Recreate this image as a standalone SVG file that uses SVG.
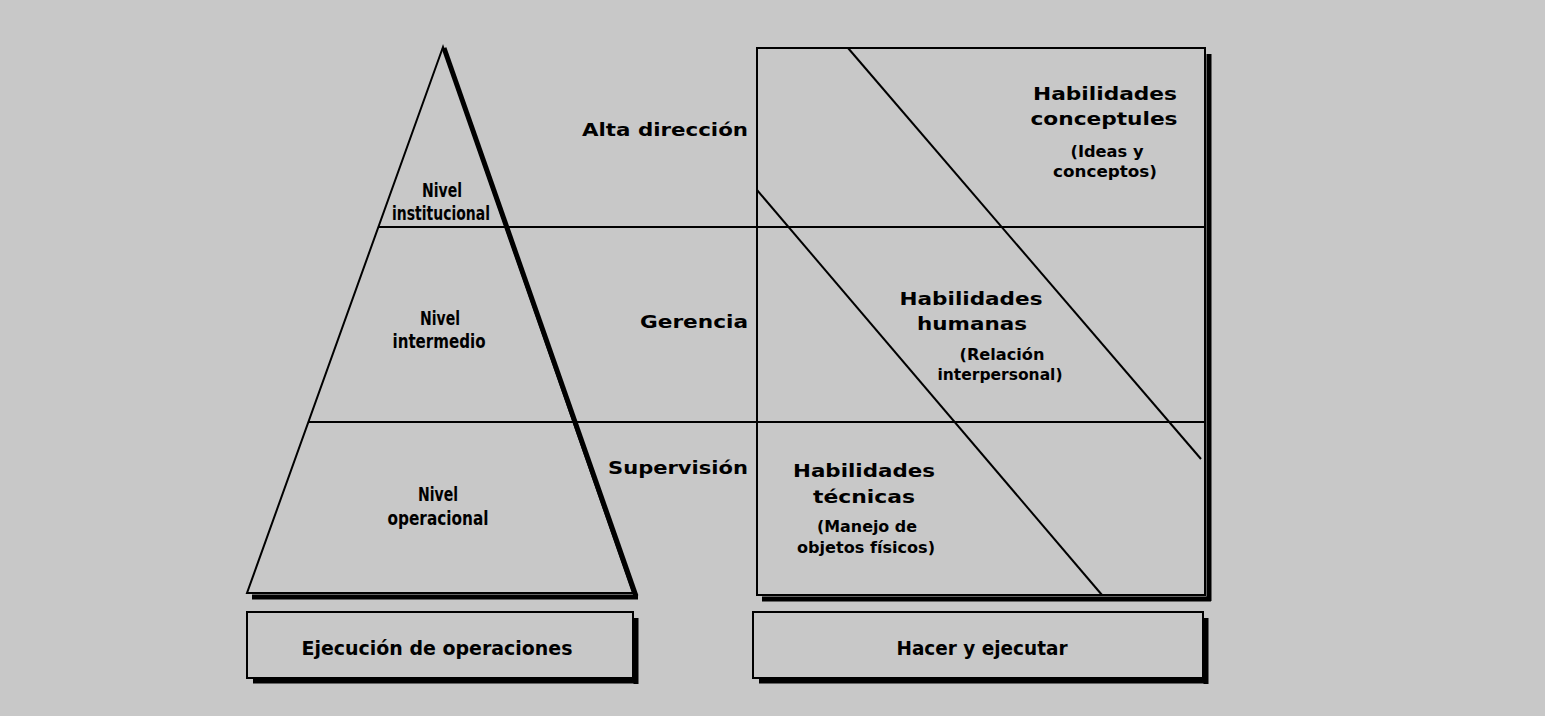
<svg xmlns="http://www.w3.org/2000/svg" width="1545" height="716" viewBox="0 0 1545 716">
<style>
.thin{stroke:#000;stroke-width:2;fill:none}
.shadow{stroke:#000;stroke-width:5;fill:none}
.lvl{font-family:"DejaVu Sans","Liberation Sans",sans-serif;font-weight:bold;font-size:18px;fill:#000}
.niv{font-family:"DejaVu Sans Condensed","Liberation Sans",sans-serif;font-weight:bold;font-size:20px;fill:#000;text-anchor:middle}
.hab{font-family:"DejaVu Sans","Liberation Sans",sans-serif;font-weight:bold;font-size:18px;fill:#000;text-anchor:middle}
.sub{font-family:"DejaVu Sans","Liberation Sans",sans-serif;font-weight:bold;font-size:15px;fill:#000;text-anchor:middle}
.box{font-family:"DejaVu Sans","Liberation Sans",sans-serif;font-weight:bold;font-size:19px;fill:#000;text-anchor:middle}
</style>
<rect x="0" y="0" width="1545" height="716" fill="#c8c8c8"/>

<g id="connectors">
  <line class="thin" x1="378" y1="227" x2="1205" y2="227"/>
  <line class="thin" x1="309" y1="422" x2="1205" y2="422"/>
  <line class="thin" x1="848" y1="48" x2="1201" y2="459"/>
  <line class="thin" x1="757" y1="190" x2="1102" y2="595"/>
</g>

<g id="pyramid">
  <polygon class="thin" points="443,47 247,593 633,593"/>
  <line class="shadow" x1="444" y1="48" x2="636" y2="596"/>
  <line class="shadow" x1="252" y1="597" x2="638" y2="597"/>
  <text class="niv" x="442" y="197" textLength="40" lengthAdjust="spacingAndGlyphs">Nivel</text>
  <text class="niv" x="441" y="220" textLength="98" lengthAdjust="spacingAndGlyphs">institucional</text>
  <text class="niv" x="440" y="325" textLength="40" lengthAdjust="spacingAndGlyphs">Nivel</text>
  <text class="niv" x="439" y="348" textLength="93" lengthAdjust="spacingAndGlyphs">intermedio</text>
  <text class="niv" x="438" y="501" textLength="40" lengthAdjust="spacingAndGlyphs">Nivel</text>
  <text class="niv" x="438" y="525" textLength="101" lengthAdjust="spacingAndGlyphs">operacional</text>
</g>

<g id="level-labels">
  <text class="lvl" x="582" y="136" textLength="166" lengthAdjust="spacingAndGlyphs">Alta dirección</text>
  <text class="lvl" x="640" y="328" textLength="108" lengthAdjust="spacingAndGlyphs">Gerencia</text>
  <text class="lvl" x="608" y="474" textLength="140" lengthAdjust="spacingAndGlyphs">Supervisión</text>
</g>

<g id="skills">
  <rect class="thin" x="757" y="48" width="448" height="547"/>
  <line class="shadow" x1="1209" y1="54" x2="1209" y2="601"/>
  <line class="shadow" x1="762" y1="599" x2="1211" y2="599"/>
  <text class="hab" x="1105" y="100" textLength="144" lengthAdjust="spacingAndGlyphs">Habilidades</text>
  <text class="hab" x="1104" y="125" textLength="147" lengthAdjust="spacingAndGlyphs">conceptules</text>
  <text class="sub" x="1107" y="157" textLength="73" lengthAdjust="spacingAndGlyphs">(Ideas y</text>
  <text class="sub" x="1105" y="177" textLength="104" lengthAdjust="spacingAndGlyphs">conceptos)</text>
  <text class="hab" x="971" y="305" textLength="143" lengthAdjust="spacingAndGlyphs">Habilidades</text>
  <text class="hab" x="972" y="330" textLength="110" lengthAdjust="spacingAndGlyphs">humanas</text>
  <text class="sub" x="1002" y="360" textLength="85" lengthAdjust="spacingAndGlyphs">(Relación</text>
  <text class="sub" x="1000" y="380" textLength="125" lengthAdjust="spacingAndGlyphs">interpersonal)</text>
  <text class="hab" x="864" y="477" textLength="142" lengthAdjust="spacingAndGlyphs">Habilidades</text>
  <text class="hab" x="864" y="503" textLength="102" lengthAdjust="spacingAndGlyphs">técnicas</text>
  <text class="sub" x="867" y="532" textLength="100" lengthAdjust="spacingAndGlyphs">(Manejo de</text>
  <text class="sub" x="866" y="553" textLength="138" lengthAdjust="spacingAndGlyphs">objetos físicos)</text>
</g>

<g id="box-ejecucion">
  <rect class="thin" x="247" y="612" width="386" height="66"/>
  <line class="shadow" x1="636" y1="618" x2="636" y2="684"/>
  <line class="shadow" x1="253" y1="681" x2="638" y2="681"/>
  <text class="box" x="437" y="655" textLength="271" lengthAdjust="spacingAndGlyphs">Ejecución de operaciones</text>
</g>

<g id="box-hacer">
  <rect class="thin" x="753" y="612" width="450" height="66"/>
  <line class="shadow" x1="1206" y1="618" x2="1206" y2="684"/>
  <line class="shadow" x1="759" y1="681" x2="1208" y2="681"/>
  <text class="box" x="982" y="655" textLength="171" lengthAdjust="spacingAndGlyphs">Hacer y ejecutar</text>
</g>
</svg>
